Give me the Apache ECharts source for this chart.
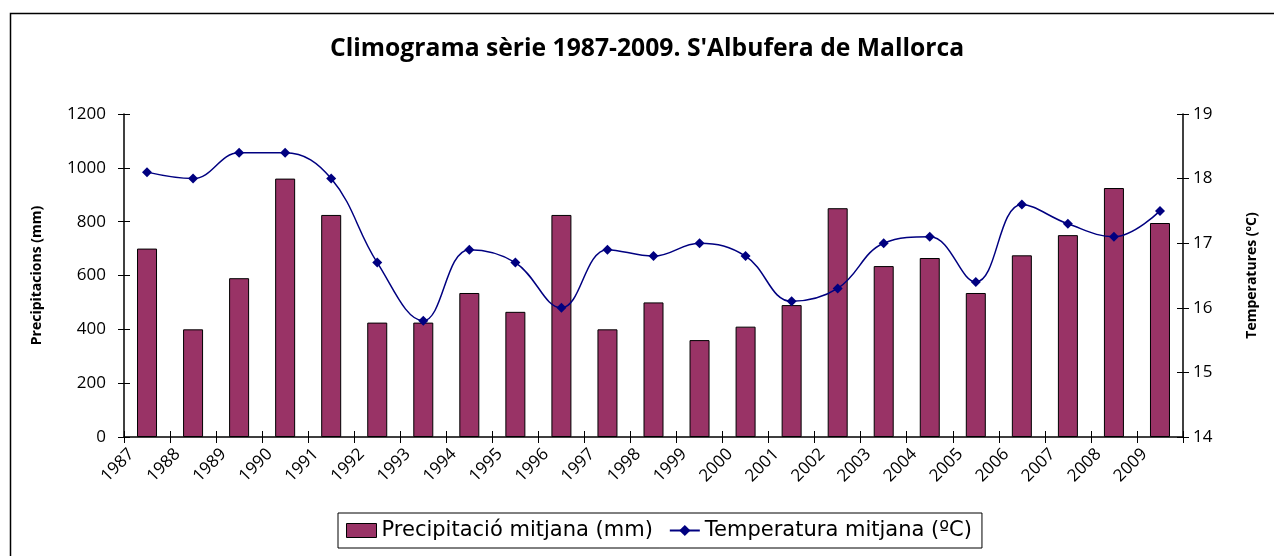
<!DOCTYPE html>
<html>
<head>
<meta charset="utf-8">
<script src="https://cdn.jsdelivr.net/npm/echarts@6/dist/echarts.min.js"></script>
<style>
html,body{margin:0;padding:0;background:#fff;}
#chart{width:1274px;height:556px;}
</style>
</head>
<body>
<div id="chart"></div>
<script>
const years = ['1987','1988','1989','1990','1991','1992','1993','1994','1995','1996','1997','1998','1999','2000','2001','2002','2003','2004','2005','2006','2007','2008','2009'];
const precipitation = [700,400,590,960,825,425,425,535,465,825,400,500,360,410,490,850,635,665,535,675,750,925,795];
const temperature = [18.1,18.0,18.4,18.4,18.0,16.7,15.8,16.9,16.7,16.0,16.9,16.8,17.0,16.8,16.1,16.3,17.0,17.1,16.4,17.6,17.3,17.1,17.5];

const chart = echarts.init(document.getElementById('chart'));
const numFont = 'Open Sans';
const blackLine = {color: '#000', width: 1.5};
chart.setOption({
  backgroundColor: '#fff',
  animation: false,
  title: {
    text: "Climograma sèrie 1987-2009. S'Albufera de Mallorca",
    left: 325, top: 31,
    textStyle: {fontFamily: numFont, fontWeight: 'bold', fontSize: 24.7, color: '#000'}
  },
  graphic: [{
    type: 'rect', left: 8, top: 11, silent: true,
    shape: {width: 1400, height: 700},
    style: {fill: 'none', stroke: '#000', lineWidth: 1.5}
  }],
  legend: {
    left: 338, top: 513,
    borderColor: '#000', borderWidth: 1, borderRadius: 0,
    padding: [7, 10, 7, 8], itemGap: 16,
    itemWidth: 30, itemHeight: 14,
    textStyle: {fontFamily: 'DejaVu Sans', fontSize: 21, color: '#000'},
    data: [
      {name: 'Precipitació mitjana (mm)', icon: 'rect', itemStyle: {color: '#993366', borderColor: '#000', borderWidth: 1}},
      {name: 'Temperatura mitjana (ºC)'}
    ]
  },
  grid: {left: 124, right: 91, top: 114, bottom: 119},
  xAxis: [{
    type: 'category', data: years, boundaryGap: true,
    axisLine: {lineStyle: blackLine},
    axisTick: {show: true, length: 6, lineStyle: {color: '#000'}},
    axisLabel: {interval: 0, rotate: 45, margin: -1, padding: [0, 22, 0, 0],
      fontFamily: numFont, fontSize: 17, color: '#000'}
  }, {
    type: 'category', data: years, boundaryGap: true, position: 'bottom',
    axisLine: {show: false},
    axisTick: {show: true, inside: true, length: 6, lineStyle: {color: '#000'}},
    axisLabel: {show: false}
  }],
  yAxis: [{
    type: 'value', min: 0, max: 1200, interval: 200,
    name: 'Precipitacions (mm)', nameLocation: 'middle', nameGap: 80,
    nameTextStyle: {fontFamily: numFont, fontWeight: 'bold', fontSize: 14, color: '#000'},
    axisLine: {show: true, lineStyle: blackLine},
    axisTick: {show: true, length: 6, lineStyle: {color: '#000'}},
    axisLabel: {margin: 18, fontFamily: numFont, fontSize: 17, color: '#000', formatter: v => String(v)},
    splitLine: {show: false}
  }, {
    type: 'value', min: 14, max: 19, interval: 1, position: 'right',
    name: 'Temperatures (ºC)', nameLocation: 'middle', nameGap: 62, nameRotate: 90,
    nameTextStyle: {fontFamily: numFont, fontWeight: 'bold', fontSize: 14, color: '#000'},
    axisLine: {show: true, lineStyle: blackLine},
    axisTick: {show: true, length: 6, lineStyle: {color: '#000'}},
    axisLabel: {margin: 10, fontFamily: numFont, fontSize: 17, color: '#000'},
    splitLine: {show: false}
  }, {
    type: 'value', min: 0, max: 1200, interval: 200, position: 'left',
    axisLine: {show: false}, axisLabel: {show: false}, splitLine: {show: false},
    axisTick: {show: true, inside: true, length: 6, lineStyle: {color: '#000'}}
  }, {
    type: 'value', min: 14, max: 19, interval: 1, position: 'right',
    axisLine: {show: false}, axisLabel: {show: false}, splitLine: {show: false},
    axisTick: {show: true, inside: true, length: 6, lineStyle: {color: '#000'}}
  }],
  series: [{
    name: 'Precipitació mitjana (mm)', type: 'bar', data: precipitation,
    xAxisIndex: 0, yAxisIndex: 0, barWidth: 20,
    itemStyle: {color: '#993366', borderColor: '#000', borderWidth: 1}
  }, {
    name: 'Temperatura mitjana (ºC)', type: 'line', data: temperature,
    xAxisIndex: 0, yAxisIndex: 1, smooth: 0.4,
    symbol: 'diamond', symbolSize: 10,
    lineStyle: {color: '#000080', width: 1.5},
    itemStyle: {color: '#000080'}
  }]
});
</script>
</body>
</html>
